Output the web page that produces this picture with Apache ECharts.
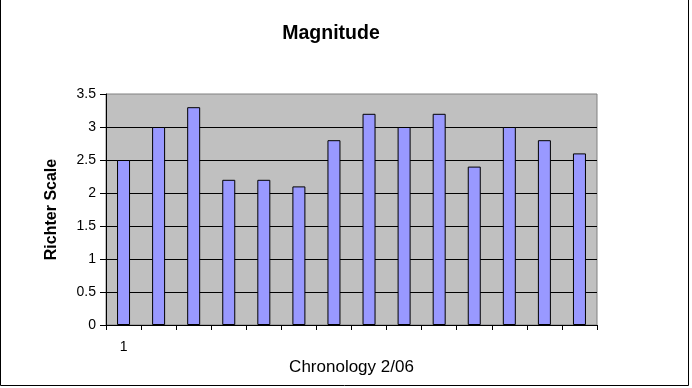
<!DOCTYPE html>
<html>
<head>
<meta charset="utf-8">
<script src="https://cdn.jsdelivr.net/npm/echarts@6/dist/echarts.min.js"></script>
<style>
html,body{margin:0;padding:0;background:#fff;}
#chart{width:692px;height:388px;}
</style>
</head>
<body>
<div id="chart"></div>
<script>
var categories = ["1","2","3","4","5","6","7","8","9","10","11","12","13","14"];
var tickLabels = ["1","","","","","","","","","","","","",""];
var magnitude = [2.5, 3.0, 3.3, 2.2, 2.2, 2.1, 2.8, 3.2, 3.0, 3.2, 2.4, 3.0, 2.8, 2.6];
var yTicks = [0, 0.5, 1, 1.5, 2, 2.5, 3, 3.5];

var FONT = '"Liberation Sans", Arial, sans-serif';
var chart = echarts.init(document.getElementById('chart'), null, {renderer: 'canvas'});
chart.setOption({
  animation: false,
  backgroundColor: '#ffffff',
  title: {
    text: 'Magnitude',
    left: 326, top: 19, textAlign: 'center',
    textStyle: {fontFamily: FONT, fontSize: 19.5, fontWeight: 'bold', color: '#000'}
  },
  grid: {
    left: 106, top: 94, right: 95, bottom: 63,
    show: true, backgroundColor: '#C0C0C0', borderColor: '#808080', borderWidth: 1
  },
  xAxis: {
    type: 'category',
    data: categories,
    boundaryGap: true,
    name: 'Chronology 2/06',
    nameLocation: 'middle',
    nameGap: 32,
    nameTextStyle: {fontFamily: FONT, fontSize: 17, color: '#000'},
    axisLine: {lineStyle: {color: '#000', width: 1}},
    axisTick: {show: true, length: 5, alignWithLabel: false, interval: 0, lineStyle: {color: '#000'}},
    axisLabel: {
      interval: 0, margin: 15,
      fontFamily: FONT, fontSize: 14, color: '#000',
      formatter: function (v, i) { return tickLabels[i]; }
    },
    splitLine: {show: false}
  },
  yAxis: {
    type: 'value',
    min: yTicks[0], max: yTicks[yTicks.length - 1], interval: 0.5,
    name: 'Richter Scale',
    nameLocation: 'middle',
    nameGap: 46,
    nameTextStyle: {fontFamily: FONT, fontSize: 16, fontWeight: 'bold', color: '#000'},
    axisLine: {show: true, lineStyle: {color: '#000', width: 1}},
    axisTick: {show: true, length: 6, lineStyle: {color: '#000'}},
    axisLabel: {margin: 10, fontFamily: FONT, fontSize: 14, color: '#000'},
    splitLine: {show: true, showMaxLine: false, lineStyle: {color: '#000', width: 1}}
  },
  series: [{
    type: 'bar',
    data: magnitude,
    barWidth: 13,
    itemStyle: {color: '#9999FF', borderColor: '#000', borderWidth: 1}
  }],
  graphic: [{
    type: 'rect',
    shape: {x: 0.5, y: -0.5, width: 688, height: 386},
    style: {fill: 'none', stroke: '#000', lineWidth: 1},
    silent: true
  }]
});
</script>
</body>
</html>
